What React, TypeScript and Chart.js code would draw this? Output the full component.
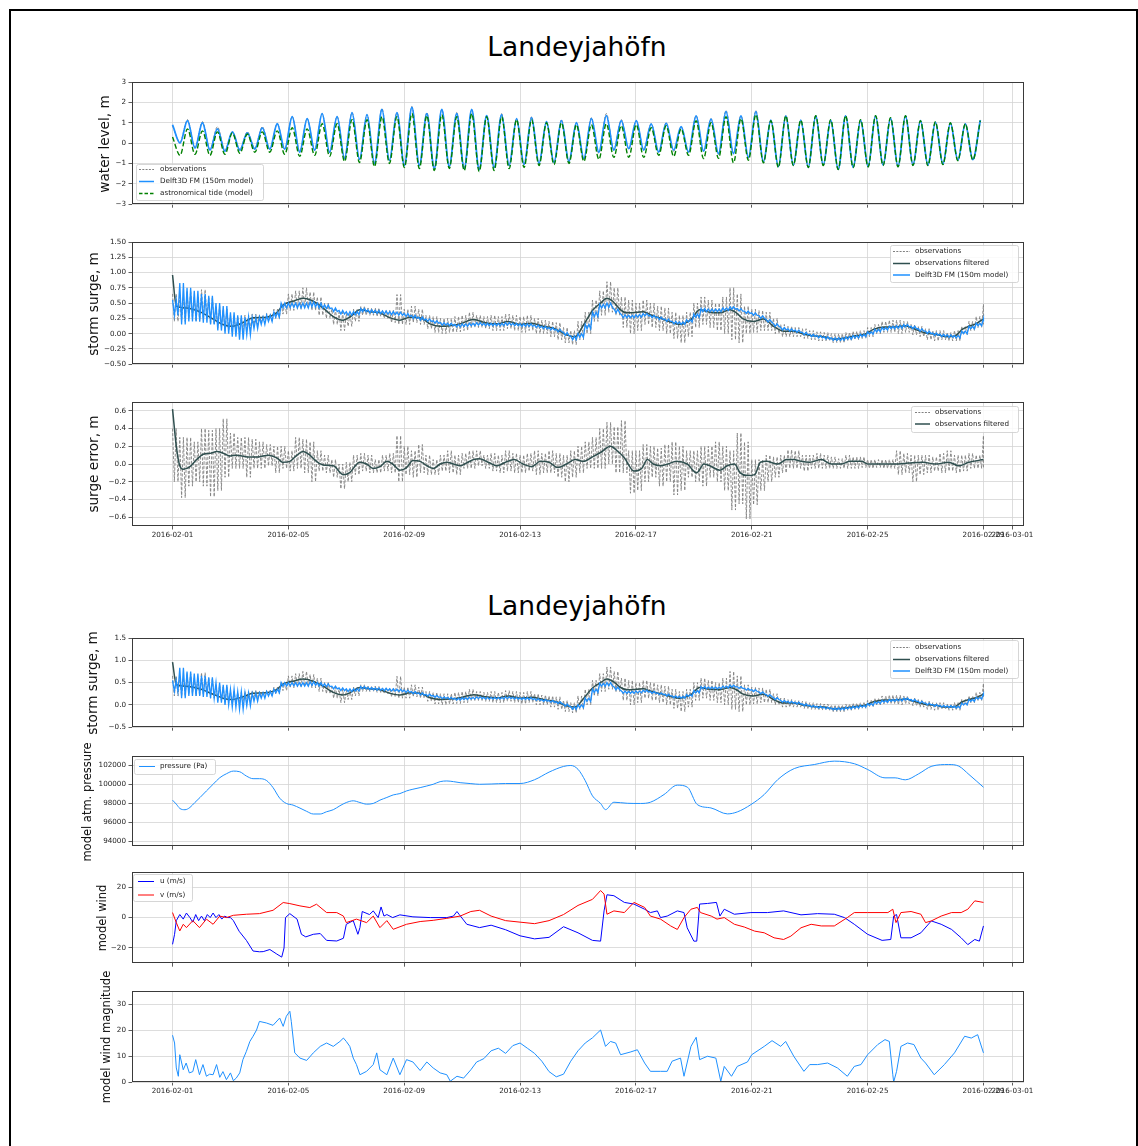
import React, { useEffect, useRef } from "react";
import { Chart, registerables } from "chart.js";
Chart.register(...registerables);

const FONT = '"DejaVu Sans", sans-serif';
Chart.defaults.font.family = FONT;

// ---------- x axis (days since 2016-02-01) ----------
const X_MIN = -1.4;
const X_MAX = 29.4;
const X_TICKS = [0, 4, 8, 12, 16, 20, 24, 28, 29];
const X_LABELS = ["2016-02-01", "2016-02-05", "2016-02-09", "2016-02-13", "2016-02-17", "2016-02-21", "2016-02-25", "2016-02-29", "2016-03-01"];

// ---------- panel 1: water level (tidal extremes, high/low alternating) ----------
const TIDE_PERIOD_DAYS = 0.5165;
const MODEL_PEAKS = [0.9, 1.1, 1.0, 0.7, 0.55, 0.5, 0.75, 0.95, 1.3, 1.2, 1.45, 1.3, 1.5, 1.4, 1.65, 1.5, 1.75, 1.45, 1.65, 1.45, 1.65, 1.35, 1.4, 1.2, 1.25, 1.05, 1.1, 1.0, 1.2, 1.35, 1.1, 1.1, 0.94, 0.98, 0.81, 1.34, 1.18, 1.55, 1.34, 1.55, 1.13, 1.34, 1.13, 1.34, 1.13, 1.34, 1.13, 1.34, 1.23, 1.34, 1.1, 1.02, 0.98, 0.94, 1.13];
const MODEL_TROUGHS = [0.0, -0.25, -0.35, -0.4, -0.35, -0.3, -0.3, -0.3, -0.45, -0.35, -0.45, -0.75, -0.8, -1.0, -0.85, -1.1, -1.1, -1.25, -1.15, -1.25, -1.3, -1.2, -1.1, -1.05, -1.0, -0.95, -0.9, -0.75, -0.45, -0.35, -0.27, -0.35, -0.44, -0.35, -0.44, -0.39, -0.52, -0.52, -0.7, -0.92, -1.16, -1.08, -1.19, -1.08, -1.29, -1.19, -1.16, -1.08, -1.16, -1.08, -1.08, -1.03, -0.84, -0.81];
const ASTRO_PEAKS = [0.3, 0.7, 0.6, 0.55, 0.5, 0.45, 0.55, 0.6, 0.75, 0.7, 0.95, 0.95, 1.15, 1.15, 1.3, 1.3, 1.45, 1.35, 1.4, 1.3, 1.45, 1.3, 1.3, 1.15, 1.15, 1.0, 1.0, 0.9, 0.9, 0.95, 0.85, 0.9, 0.75, 0.85, 0.7, 1.1, 1.0, 1.3, 1.2, 1.4, 1.1, 1.34, 1.13, 1.34, 1.15, 1.35, 1.15, 1.35, 1.25, 1.35, 1.1, 1.05, 1.0, 0.95, 1.1];
const ASTRO_TROUGHS = [-0.6, -0.55, -0.6, -0.55, -0.5, -0.45, -0.45, -0.55, -0.65, -0.6, -0.65, -0.9, -0.95, -1.15, -1.0, -1.2, -1.25, -1.35, -1.25, -1.35, -1.4, -1.35, -1.25, -1.2, -1.1, -1.05, -1.0, -0.9, -0.8, -0.7, -0.7, -0.7, -0.6, -0.65, -0.6, -0.76, -0.75, -0.97, -0.84, -0.97, -1.19, -1.1, -1.2, -1.1, -1.3, -1.2, -1.17, -1.1, -1.17, -1.1, -1.1, -1.05, -0.86, -0.83];
const OBS_PEAKS = [0.85, 1.15, 1.05, 0.8, 0.55, 0.55, 0.8, 0.95, 1.3, 1.2, 1.45, 1.3, 1.5, 1.4, 1.7, 1.5, 1.8, 1.5, 1.65, 1.5, 1.65, 1.35, 1.45, 1.2, 1.3, 1.05, 1.15, 1.0, 1.25, 1.45, 1.15, 1.1, 0.95, 1.0, 0.8, 1.35, 1.2, 1.6, 1.35, 1.6, 1.1, 1.35, 1.1, 1.35, 1.1, 1.35, 1.1, 1.35, 1.2, 1.35, 1.1, 1.0, 1.0, 0.95, 1.15];
const OBS_TROUGHS = [0.05, -0.2, -0.3, -0.35, -0.3, -0.25, -0.3, -0.3, -0.4, -0.35, -0.45, -0.7, -0.8, -0.95, -0.85, -1.05, -1.1, -1.2, -1.15, -1.2, -1.25, -1.2, -1.1, -1.05, -1.05, -1.0, -0.95, -0.8, -0.5, -0.3, -0.3, -0.3, -0.45, -0.4, -0.45, -0.4, -0.55, -0.5, -0.75, -0.95, -1.15, -1.1, -1.2, -1.1, -1.3, -1.2, -1.15, -1.1, -1.15, -1.05, -1.1, -1.05, -0.85, -0.8];

// ---------- storm surge (6-hourly upper / lower envelope of the oscillating traces) ----------
const GRID_STEP_DAYS = 0.25;
const SURGE_MODEL_HI = [0.55, 0.83, 0.75, 0.7, 0.65, 0.62, 0.5, 0.45, 0.35, 0.3, 0.27, 0.26, 0.27, 0.3, 0.35, 0.5, 0.5, 0.5, 0.5, 0.52, 0.5, 0.47, 0.42, 0.38, 0.36, 0.36, 0.41, 0.39, 0.38, 0.37, 0.36, 0.35, 0.33, 0.3, 0.27, 0.24, 0.21, 0.18, 0.17, 0.15, 0.16, 0.17, 0.18, 0.17, 0.17, 0.17, 0.18, 0.17, 0.16, 0.16, 0.14, 0.12, 0.1, 0.07, 0.02, -0.04, 0.0, 0.15, 0.35, 0.48, 0.5, 0.4, 0.31, 0.3, 0.31, 0.33, 0.3, 0.27, 0.24, 0.2, 0.19, 0.23, 0.32, 0.41, 0.4, 0.4, 0.42, 0.44, 0.41, 0.37, 0.34, 0.29, 0.23, 0.16, 0.1, 0.08, 0.06, 0.02, -0.01, -0.03, -0.05, -0.07, -0.07, -0.05, -0.03, -0.01, 0.03, 0.07, 0.1, 0.12, 0.13, 0.15, 0.12, 0.08, 0.04, 0.01, -0.01, -0.02, -0.03, 0.04, 0.12, 0.17, 0.24];
const SURGE_MODEL_LO = [0.3, 0.15, 0.2, 0.2, 0.18, 0.15, 0.05, 0.0, -0.05, -0.1, -0.02, 0.08, 0.15, 0.2, 0.27, 0.42, 0.43, 0.42, 0.42, 0.44, 0.42, 0.41, 0.36, 0.32, 0.3, 0.31, 0.36, 0.34, 0.33, 0.32, 0.31, 0.3, 0.28, 0.25, 0.22, 0.2, 0.17, 0.14, 0.13, 0.11, 0.12, 0.13, 0.14, 0.13, 0.13, 0.13, 0.14, 0.13, 0.12, 0.12, 0.1, 0.08, 0.06, 0.03, -0.03, -0.1, -0.06, 0.08, 0.28, 0.42, 0.43, 0.34, 0.26, 0.26, 0.27, 0.29, 0.26, 0.23, 0.2, 0.16, 0.15, 0.19, 0.27, 0.36, 0.36, 0.36, 0.38, 0.4, 0.37, 0.33, 0.3, 0.25, 0.19, 0.12, 0.06, 0.04, 0.02, -0.02, -0.05, -0.07, -0.09, -0.11, -0.11, -0.09, -0.07, -0.05, -0.01, 0.03, 0.06, 0.08, 0.09, 0.11, 0.08, 0.04, 0.0, -0.03, -0.05, -0.06, -0.07, 0.0, 0.08, 0.13, 0.2];
const SURGE_OBS_HI = [0.65, 0.6, 0.7, 0.6, 0.72, 0.6, 0.45, 0.4, 0.3, 0.28, 0.3, 0.32, 0.3, 0.33, 0.4, 0.5, 0.65, 0.7, 0.75, 0.68, 0.6, 0.5, 0.4, 0.35, 0.33, 0.4, 0.45, 0.42, 0.42, 0.38, 0.38, 0.64, 0.4, 0.45, 0.4, 0.3, 0.28, 0.25, 0.25, 0.28, 0.3, 0.35, 0.3, 0.28, 0.3, 0.28, 0.32, 0.3, 0.28, 0.3, 0.25, 0.22, 0.2, 0.18, 0.1, 0.05, 0.2, 0.35, 0.55, 0.7, 0.85, 0.75, 0.6, 0.55, 0.5, 0.55, 0.5, 0.45, 0.42, 0.35, 0.3, 0.35, 0.5, 0.6, 0.55, 0.5, 0.6, 0.75, 0.65, 0.45, 0.4, 0.38, 0.35, 0.25, 0.15, 0.12, 0.1, 0.08, 0.05, 0.03, 0.02, 0.0, 0.0, 0.02, 0.04, 0.05, 0.1, 0.15, 0.2, 0.22, 0.22, 0.2, 0.15, 0.12, 0.08, 0.05, 0.05, 0.02, 0.05, 0.12, 0.2, 0.28, 0.48];
const SURGE_OBS_LO = [0.2, 0.2, 0.25, 0.2, 0.25, 0.15, 0.1, 0.05, 0.02, 0.05, 0.08, 0.15, 0.18, 0.2, 0.25, 0.32, 0.38, 0.4, 0.42, 0.38, 0.3, 0.25, 0.15, 0.05, 0.12, 0.2, 0.3, 0.3, 0.28, 0.25, 0.18, 0.15, 0.15, 0.18, 0.15, 0.08, 0.02, 0.0, 0.02, 0.03, 0.05, 0.1, 0.1, 0.08, 0.05, 0.05, 0.08, 0.05, 0.02, 0.05, 0.0, 0.0, -0.05, -0.1, -0.15, -0.18, -0.1, 0.0, 0.2, 0.3, 0.35, 0.3, 0.1, 0.0, 0.05, 0.15, 0.1, 0.05, 0.0, -0.08, -0.15, -0.05, 0.1, 0.15, 0.1, 0.05, 0.0, -0.1, -0.15, 0.0, 0.02, 0.05, 0.05, 0.0, -0.05, -0.05, -0.05, -0.08, -0.1, -0.12, -0.12, -0.15, -0.15, -0.12, -0.1, -0.08, -0.05, 0.0, 0.02, 0.02, 0.0, 0.02, -0.02, -0.05, -0.1, -0.12, -0.1, -0.12, -0.12, -0.02, 0.05, 0.1, 0.15];
const SURGE_FILTERED: [number, number][] = [[0, 0.96], [0.13, 0.45], [0.47, 0.42], [0.93, 0.36], [1.4, 0.24], [1.74, 0.15], [2.03, 0.12], [2.43, 0.18], [2.78, 0.26], [3.24, 0.27], [3.59, 0.34], [3.82, 0.47], [4.16, 0.53], [4.51, 0.58], [4.86, 0.53], [5.2, 0.42], [5.55, 0.28], [5.89, 0.22], [6.12, 0.27], [6.47, 0.39], [6.81, 0.36], [7.16, 0.34], [7.51, 0.26], [7.85, 0.22], [8.2, 0.27], [8.55, 0.26], [8.89, 0.16], [9.24, 0.12], [9.59, 0.13], [9.93, 0.16], [10.4, 0.23], [10.8, 0.18], [11.2, 0.16], [11.6, 0.2], [12.0, 0.15], [12.4, 0.17], [12.8, 0.12], [13.2, 0.08], [13.6, -0.02], [13.9, -0.05], [14.2, 0.15], [14.5, 0.38], [14.78, 0.5], [15.0, 0.58], [15.2, 0.53], [15.47, 0.39], [15.68, 0.34], [16.03, 0.35], [16.26, 0.36], [16.5, 0.31], [16.8, 0.26], [17.2, 0.19], [17.5, 0.15], [17.9, 0.23], [18.2, 0.39], [18.55, 0.35], [18.9, 0.34], [19.24, 0.39], [19.47, 0.34], [19.7, 0.24], [20.05, 0.2], [20.4, 0.24], [20.75, 0.12], [21.1, 0.04], [21.45, 0.04], [21.8, -0.01], [22.15, -0.04], [22.5, -0.05], [22.85, -0.09], [23.2, -0.07], [23.54, -0.04], [23.9, -0.01], [24.2, 0.07], [24.6, 0.11], [24.95, 0.11], [25.3, 0.13], [25.6, 0.08], [26.0, 0.01], [26.35, -0.01], [26.7, -0.05], [27.0, -0.04], [27.27, 0.07], [27.5, 0.12], [27.73, 0.16], [28.0, 0.24]];

// ---------- surge error ----------
const ERR_OBS_HI = [0.4, 0.3, 0.3, 0.25, 0.4, 0.38, 0.4, 0.51, 0.35, 0.3, 0.3, 0.28, 0.25, 0.22, 0.2, 0.2, 0.15, 0.3, 0.28, 0.25, 0.15, 0.1, 0.05, 0.0, 0.02, 0.1, 0.12, 0.1, 0.05, 0.1, 0.12, 0.32, 0.2, 0.15, 0.22, 0.1, 0.05, 0.1, 0.15, 0.1, 0.12, 0.15, 0.15, 0.1, 0.12, 0.1, 0.15, 0.12, 0.1, 0.12, 0.15, 0.12, 0.15, 0.12, 0.1, 0.15, 0.2, 0.25, 0.3, 0.4, 0.47, 0.42, 0.49, 0.15, 0.15, 0.22, 0.2, 0.18, 0.22, 0.25, 0.2, 0.15, 0.15, 0.2, 0.2, 0.25, 0.2, 0.15, 0.35, 0.25, 0.05, 0.05, 0.1, 0.08, 0.1, 0.16, 0.15, 0.1, 0.1, 0.12, 0.1, 0.08, 0.06, 0.1, 0.08, 0.08, 0.05, 0.05, 0.05, 0.05, 0.15, 0.12, 0.1, 0.1, 0.1, 0.08, 0.12, 0.15, 0.1, 0.1, 0.12, 0.1, 0.32];
const ERR_OBS_LO = [-0.2, -0.38, -0.25, -0.2, -0.25, -0.37, -0.3, -0.15, -0.05, -0.05, -0.15, -0.05, -0.05, -0.02, -0.1, -0.05, -0.08, -0.05, -0.1, -0.2, -0.08, -0.1, -0.15, -0.28, -0.2, -0.12, -0.08, -0.1, -0.1, -0.08, -0.1, -0.2, -0.12, -0.15, -0.1, -0.12, -0.12, -0.08, -0.1, -0.12, -0.05, -0.05, -0.02, -0.05, -0.08, -0.1, -0.08, -0.1, -0.1, -0.08, -0.12, -0.1, -0.1, -0.15, -0.2, -0.15, -0.1, -0.05, -0.05, -0.05, 0.0, -0.1, -0.1, -0.33, -0.3, -0.2, -0.15, -0.25, -0.2, -0.35, -0.3, -0.15, -0.2, -0.25, -0.15, -0.2, -0.3, -0.52, -0.45, -0.62, -0.46, -0.3, -0.2, -0.15, -0.1, -0.05, -0.05, -0.08, -0.05, -0.05, -0.05, -0.05, -0.05, -0.05, -0.05, -0.04, -0.05, -0.04, -0.05, -0.05, -0.12, -0.1, -0.2, -0.12, -0.1, -0.08, -0.1, -0.08, -0.1, -0.08, -0.05, -0.05, -0.05];
const ERR_FILTERED: [number, number][] = [[0, 0.62], [0.13, 0.2], [0.25, -0.02], [0.37, -0.06], [0.6, -0.03], [0.83, 0.05], [1.06, 0.11], [1.3, 0.12], [1.53, 0.14], [1.76, 0.12], [2.0, 0.09], [2.2, 0.1], [2.6, 0.08], [2.95, 0.08], [3.3, 0.1], [3.6, 0.07], [3.8, 0.02], [4.05, 0.03], [4.3, 0.1], [4.5, 0.14], [4.74, 0.1], [4.97, 0.03], [5.2, -0.01], [5.55, -0.02], [5.9, -0.12], [6.1, -0.1], [6.47, 0.02], [6.7, 0.0], [6.93, -0.05], [7.16, -0.03], [7.4, 0.03], [7.6, 0.0], [7.85, -0.07], [8.08, -0.04], [8.3, 0.04], [8.55, 0.03], [8.78, -0.02], [9.0, -0.05], [9.24, 0.0], [9.47, 0.02], [9.7, 0.0], [9.93, -0.02], [10.2, 0.02], [10.4, 0.05], [10.6, 0.06], [10.9, 0.02], [11.2, -0.02], [11.5, 0.02], [11.8, 0.05], [12.1, 0.0], [12.4, -0.03], [12.7, 0.03], [13.0, 0.02], [13.3, -0.04], [13.6, 0.0], [13.9, 0.05], [14.2, 0.03], [14.5, 0.08], [14.78, 0.13], [15.12, 0.2], [15.35, 0.15], [15.6, 0.07], [15.93, -0.08], [16.2, -0.05], [16.4, 0.05], [16.6, 0.0], [16.85, -0.02], [17.1, 0.0], [17.4, 0.03], [17.77, 0.0], [18.1, -0.1], [18.35, 0.0], [18.55, -0.02], [18.9, -0.07], [19.15, -0.02], [19.4, 0.0], [19.6, -0.1], [19.85, -0.13], [20.1, -0.12], [20.3, 0.02], [20.5, 0.03], [20.9, 0.0], [21.2, 0.05], [21.45, 0.05], [21.7, 0.03], [22.0, 0.02], [22.4, 0.05], [22.75, 0.0], [23.1, 0.0], [23.4, 0.03], [23.8, 0.03], [24.0, 0.0], [24.5, 0.0], [24.95, 0.0], [25.4, 0.01], [25.9, 0.02], [26.35, 0.0], [26.8, 0.02], [27.15, -0.02], [27.5, 0.02], [28.0, 0.05]];

// ---------- meteo ----------
const PRESSURE: [number, number][] = [[0, 98350], [0.13, 97930], [0.25, 97480], [0.43, 97340], [0.6, 97580], [0.77, 98100], [0.95, 98630], [1.17, 99320], [1.4, 100020], [1.63, 100710], [1.86, 101130], [2.1, 101410], [2.32, 101340], [2.55, 100890], [2.78, 100610], [3.0, 100610], [3.24, 100430], [3.47, 99670], [3.7, 98560], [3.93, 98000], [4.16, 97830], [4.4, 97510], [4.63, 97170], [4.86, 96890], [5.1, 96890], [5.32, 97130], [5.55, 97340], [5.78, 97760], [6.0, 98100], [6.24, 98280], [6.47, 98100], [6.7, 97930], [6.93, 98000], [7.16, 98350], [7.4, 98630], [7.62, 98900], [7.85, 99040], [8.08, 99320], [8.3, 99500], [8.55, 99670], [8.78, 99840], [9.0, 100020], [9.24, 100300], [9.47, 100370], [9.7, 100300], [9.93, 100190], [10.3, 100090], [10.6, 100020], [11.0, 100050], [11.5, 100100], [12.0, 100100], [12.5, 100500], [13.0, 101300], [13.5, 101900], [13.75, 102000], [14.0, 101600], [14.25, 100400], [14.5, 98800], [14.78, 98000], [14.95, 97350], [15.24, 98130], [15.7, 98020], [16.16, 98000], [16.5, 98130], [16.97, 98940], [17.43, 99930], [17.78, 99710], [18.12, 97880], [18.59, 97530], [19.16, 96900], [19.5, 97110], [19.97, 97880], [20.43, 98940], [20.9, 100520], [21.47, 101680], [22.16, 102100], [22.85, 102460], [23.55, 102180], [24.0, 101580], [24.6, 100700], [24.95, 100700], [25.3, 100490], [25.76, 101120], [26.22, 101930], [26.8, 102100], [27.15, 101930], [27.5, 101050], [28.0, 99710]];
const WIND_U: [number, number][] = [[0, -17.6], [0.07, -11], [0.13, -2], [0.25, 2], [0.37, -1], [0.48, 3], [0.6, 0], [0.7, -3], [0.8, 2], [0.9, -2], [1.0, 1], [1.1, -2], [1.2, 2], [1.3, 0], [1.4, 3], [1.5, 0], [1.6, 2], [1.7, -1], [1.8, 1], [1.9, 0], [2.0, 0], [2.1, -2], [2.3, -9], [2.55, -15], [2.78, -22], [3.0, -22.5], [3.13, -22.4], [3.36, -21], [3.6, -24], [3.77, -26], [3.85, -20], [3.9, 0], [4.05, 2.6], [4.3, -1], [4.45, -11], [4.6, -12.7], [4.86, -11], [5.1, -10.5], [5.32, -15], [5.67, -15.4], [5.9, -13.6], [6.0, -4.4], [6.24, -2], [6.4, -11], [6.47, -6.6], [6.55, 4], [6.8, 2], [6.93, 4.4], [7.1, 0], [7.2, 7], [7.3, 1], [7.4, 2], [7.6, 0], [7.85, 1.8], [8.3, 0.5], [8.9, 0], [9.47, 0], [9.7, 1], [9.82, 4], [9.9, 2], [10.16, -4.4], [10.6, -6.6], [11.0, -5], [11.5, -8], [12.0, -12], [12.5, -14], [13.0, -13], [13.5, -6], [14.0, -10], [14.5, -15], [14.78, -15.5], [14.9, 4.4], [15.0, 15], [15.24, 14.4], [15.6, 10], [15.93, 8.9], [16.3, 5.5], [16.5, 3.3], [16.74, 4.4], [16.85, 0], [17.08, 1], [17.43, 4.4], [17.66, 3.3], [17.77, -6.7], [18.0, -15.5], [18.1, -15.5], [18.2, 8.9], [18.47, 9.3], [18.78, 10], [18.9, 1], [19.05, 5.5], [19.4, 2.2], [19.97, 3.3], [20.54, 3.3], [21.1, 4.4], [21.7, 1.8], [22.27, 2.6], [22.85, 2.2], [23.2, 0], [23.54, -4.4], [24.0, -11], [24.5, -15], [24.8, -14.4], [24.9, 1], [25.0, 2], [25.15, -13.3], [25.5, -13.3], [25.84, -10], [26.2, -2.2], [26.54, -4.4], [26.9, -7.8], [27.23, -13.3], [27.46, -17.8], [27.7, -14.4], [27.86, -15.5], [28.0, -5.5]];
const WIND_V: [number, number][] = [[0, 3.3], [0.13, -3.3], [0.25, -8.8], [0.37, -4.4], [0.48, -6.6], [0.7, -2], [0.93, -6.6], [1.17, -1], [1.4, -4.4], [1.63, 1], [1.86, 0], [2.1, 1.5], [2.55, 2.2], [3.0, 2.6], [3.47, 4.8], [3.82, 9.9], [4.05, 9.2], [4.4, 7.7], [4.74, 6.6], [4.97, 8.8], [5.32, 3.3], [5.67, 3.3], [5.9, 1], [6.0, -3.3], [6.35, -1], [6.7, -3.3], [6.93, 1], [7.16, -6.6], [7.4, -2], [7.62, -7.7], [8.08, -4.4], [8.55, -2.6], [9.0, -1.8], [9.47, -0.5], [9.93, 1], [10.3, 4], [10.6, 4.8], [11.0, 1], [11.5, -2], [12.0, -3], [12.5, -4], [13.0, -2], [13.5, 2], [14.0, 8], [14.5, 12], [14.78, 17.8], [14.9, 15.5], [15.0, 2.2], [15.24, 4.4], [15.6, 3.3], [15.93, 10], [16.3, 6.7], [16.5, 1], [16.85, -1], [17.2, -5.5], [17.43, -7.8], [17.66, 0], [17.9, 5.5], [18.12, 6.7], [18.23, 3.3], [18.6, 1], [18.8, -1], [19.05, 0], [19.4, -4.4], [19.74, -6.2], [20.1, -8.9], [20.43, -10], [20.77, -13.3], [21.1, -14.4], [21.35, -12.2], [21.7, -6.7], [22.05, -4.4], [22.4, -5.5], [22.85, -5.5], [23.3, 0], [23.54, 3.3], [24.0, 3.3], [24.7, 3.3], [24.87, 5.5], [24.98, -3.3], [25.15, 3.3], [25.5, 4], [25.84, 2.2], [26.0, -3.3], [26.2, -2.2], [26.54, 1], [26.9, 3.3], [27.23, 3.3], [27.46, 5.5], [27.7, 11], [28.0, 10]];
const WIND_MAG: [number, number][] = [[0, 18], [0.07, 15], [0.13, 5.4], [0.2, 2.2], [0.25, 10.5], [0.37, 4.7], [0.47, 7.3], [0.58, 3.5], [0.7, 4], [0.8, 8.6], [0.93, 2.8], [1.05, 6.7], [1.17, 2.2], [1.28, 3], [1.4, 2.8], [1.52, 6.7], [1.63, 1.8], [1.74, 4], [1.86, 0.9], [2.0, 3.5], [2.1, 0.5], [2.2, 1.5], [2.32, 3.5], [2.43, 8.6], [2.55, 11.8], [2.67, 15.6], [2.78, 17.6], [2.9, 20], [3.0, 23.3], [3.24, 22.7], [3.47, 21.8], [3.7, 24.6], [3.82, 21.4], [3.93, 25.3], [4.05, 27.2], [4.1, 23.3], [4.22, 11.2], [4.4, 9.2], [4.63, 8.3], [4.86, 11.2], [5.1, 13.7], [5.32, 15], [5.55, 13.7], [5.78, 15.6], [5.9, 16.9], [6.0, 15.6], [6.12, 13.7], [6.24, 9.2], [6.35, 6.7], [6.47, 2.8], [6.7, 4.1], [6.93, 6.7], [7.05, 11.2], [7.16, 4.7], [7.4, 2.8], [7.62, 9.2], [7.85, 2.8], [8.08, 8.6], [8.3, 7.7], [8.55, 4.4], [8.78, 7.7], [9.0, 5.4], [9.24, 3.5], [9.47, 2.8], [9.59, 0.3], [9.82, 2.2], [10.05, 1.5], [10.3, 4.7], [10.5, 7.7], [10.6, 8.2], [10.75, 9], [11.0, 12], [11.25, 13], [11.5, 11], [11.75, 14], [12.0, 15], [12.25, 13], [12.5, 11], [12.75, 8], [13.0, 4], [13.25, 2], [13.5, 3], [13.75, 8], [14.0, 12], [14.25, 15], [14.5, 17], [14.78, 20], [14.95, 13.7], [15.12, 15.6], [15.3, 15], [15.47, 10.5], [15.8, 11.5], [16.05, 12.4], [16.3, 7.3], [16.5, 4.1], [16.85, 4.1], [17.08, 4.1], [17.25, 8], [17.54, 9.2], [17.66, 2.2], [17.9, 13.7], [18.08, 17.2], [18.2, 8.6], [18.47, 9.9], [18.76, 9.2], [18.93, 0.3], [19.05, 6], [19.3, 2.2], [19.5, 6], [19.85, 7.7], [20.0, 10.5], [20.43, 13.7], [20.7, 15.9], [21.0, 13.7], [21.17, 15.6], [21.45, 9.9], [21.8, 4.1], [22.0, 6.7], [22.27, 6.7], [22.62, 7.3], [22.96, 5.4], [23.3, 2.2], [23.54, 6], [23.77, 6.7], [24.0, 10.5], [24.35, 14.4], [24.6, 16.3], [24.75, 15.6], [24.87, 2.8], [24.9, 0], [25.0, 4.1], [25.15, 13.7], [25.38, 15], [25.6, 14.4], [25.84, 9.2], [26.0, 7.3], [26.3, 2.8], [26.65, 6.7], [27.0, 11.2], [27.35, 17.6], [27.58, 16.9], [27.8, 18.2], [28.0, 11.2]];

// ---------- y tick values ----------
const WL_TICKS = [-3, -2, -1, 0, 1, 2, 3];
const SURGE_TICKS = [-0.5, -0.25, 0, 0.25, 0.5, 0.75, 1.0, 1.25, 1.5];
const ERR_TICKS = [-0.6, -0.4, -0.2, 0, 0.2, 0.4, 0.6];
const SURGE2_TICKS = [-0.5, 0, 0.5, 1.0, 1.5];
const P_TICKS = [94000, 96000, 98000, 100000, 102000];
const WIND_TICKS = [-20, 0, 20];
const MAG_TICKS = [0, 10, 20, 30];

// ---------- helpers ----------
type Pt = { x: number; y: number };
const fromPairs = (l: [number, number][]): Pt[] => l.map(([x, y]) => ({ x, y }));
const tide = (peaks: number[], troughs: number[]): Pt[] => {
  const out: Pt[] = [];
  peaks.forEach((p, k) => {
    out.push({ x: k * TIDE_PERIOD_DAYS, y: p });
    if (k < troughs.length) out.push({ x: (k + 0.5) * TIDE_PERIOD_DAYS, y: troughs[k] });
  });
  return out;
};
// dense oscillating trace drawn between the read upper and lower envelopes
const band = (hi: number[], lo: number[]): Pt[] => {
  const out: Pt[] = [];
  const q = GRID_STEP_DAYS / 4;
  hi.forEach((h, i) => {
    const t = i * GRID_STEP_DAYS;
    const last = i === hi.length - 1;
    out.push({ x: t, y: h });
    if (last) { out.push({ x: t, y: lo[i] }); return; }
    out.push({ x: t + q, y: lo[i] });
    out.push({ x: t + 2 * q, y: h });
    out.push({ x: t + 3 * q, y: lo[i] });
  });
  return out;
};

const C_BLUE = "#1e90ff";
const C_GRAY = "#808080";
const C_GREEN = "#008000";
const C_DARK = "#2f4f4f";
const OBS_DASH = [3, 1.6];
const ASTRO_DASH = [5, 2.4];

type Series = { label: string; data: Pt[]; color: string; width: number; dash?: number[]; smooth?: boolean };
type LegendItem = { label: string; color: string; width: number; dash?: number[] };
type LegendCfg = { x: number; y: number; w: number; h: number; rows: number[]; lx0: number; lx1: number; tx: number; items: LegendItem[] };
type PanelCfg = {
  top: number; bottom: number; yMin: number; yMax: number; yTicks: number[]; decimals: number;
  title: string; titleX: number; titleSize: number; showX: boolean; series: Series[]; legend?: LegendCfg;
};

const surgeObs = band(SURGE_OBS_HI, SURGE_OBS_LO);
const surgeModel = band(SURGE_MODEL_HI, SURGE_MODEL_LO);
const surgeFilt = fromPairs(SURGE_FILTERED);

const surgeSeries: Series[] = [
  { label: "observations", data: surgeObs, color: C_GRAY, width: 0.9, dash: OBS_DASH },
  { label: "observations filtered", data: surgeFilt, color: C_DARK, width: 1.5, smooth: true },
  { label: "Delft3D FM (150m model)", data: surgeModel, color: C_BLUE, width: 1.3 },
];
const surgeLegendItems: LegendItem[] = [
  { label: "observations", color: C_GRAY, width: 1, dash: [2, 1.3] },
  { label: "observations filtered", color: C_DARK, width: 1.5 },
  { label: "Delft3D FM (150m model)", color: C_BLUE, width: 1.5 },
];

const PANELS: PanelCfg[] = [
  {
    top: 82, bottom: 205, yMin: -3, yMax: 3, yTicks: WL_TICKS, decimals: 0, title: "water level, m", titleX: 104, titleSize: 13.6, showX: false,
    series: [
      { label: "observations", data: tide(OBS_PEAKS, OBS_TROUGHS), color: C_GRAY, width: 1, dash: OBS_DASH, smooth: true },
      { label: "Delft3D FM (150m model)", data: tide(MODEL_PEAKS, MODEL_TROUGHS), color: C_BLUE, width: 1.8, smooth: true },
      { label: "astronomical tide (model)", data: tide(ASTRO_PEAKS, ASTRO_TROUGHS), color: C_GREEN, width: 1.4, dash: ASTRO_DASH, smooth: true },
    ],
    legend: {
      x: 136, y: 164, w: 127, h: 36, rows: [169.5, 181.5, 193.5], lx0: 139, lx1: 154, tx: 160,
      items: [
        { label: "observations", color: C_GRAY, width: 1, dash: [2, 1.3] },
        { label: "Delft3D FM (150m model)", color: C_BLUE, width: 1.5 },
        { label: "astronomical tide (model)", color: C_GREEN, width: 1.4, dash: [3.5, 2] },
      ],
    },
  },
  {
    top: 242, bottom: 365, yMin: -0.5, yMax: 1.5, yTicks: SURGE_TICKS, decimals: 2, title: "storm surge, m", titleX: 93, titleSize: 13.6, showX: false,
    series: surgeSeries,
    legend: { x: 890, y: 245, w: 128, h: 37, rows: [251.5, 263.5, 275], lx0: 893, lx1: 910, tx: 915, items: surgeLegendItems },
  },
  {
    top: 402, bottom: 526, yMin: -0.7, yMax: 0.7, yTicks: ERR_TICKS, decimals: 1, title: "surge error, m", titleX: 93, titleSize: 13.6, showX: true,
    series: [
      { label: "observations", data: band(ERR_OBS_HI, ERR_OBS_LO), color: C_GRAY, width: 0.9, dash: OBS_DASH },
      { label: "observations filtered", data: fromPairs(ERR_FILTERED), color: C_DARK, width: 1.5, smooth: true },
    ],
    legend: {
      x: 911, y: 406, w: 107, h: 26, rows: [412.5, 424], lx0: 915, lx1: 930, tx: 935,
      items: [
        { label: "observations", color: C_GRAY, width: 1, dash: [2, 1.3] },
        { label: "observations filtered", color: C_DARK, width: 1.5 },
      ],
    },
  },
  {
    top: 638, bottom: 728, yMin: -0.5, yMax: 1.5, yTicks: SURGE2_TICKS, decimals: 1, title: "storm surge, m", titleX: 92, titleSize: 13.6, showX: false,
    series: surgeSeries,
    legend: { x: 890, y: 640, w: 128, h: 38, rows: [647.5, 659.5, 671], lx0: 893, lx1: 910, tx: 915, items: surgeLegendItems },
  },
  {
    top: 756, bottom: 847, yMin: 93500, yMax: 103000, yTicks: P_TICKS, decimals: 0, title: "model atm. pressure", titleX: 87, titleSize: 11.5, showX: false,
    series: [{ label: "pressure (Pa)", data: fromPairs(PRESSURE), color: C_BLUE, width: 1, smooth: true }],
    legend: { x: 134, y: 759, w: 81, h: 15, rows: [766.5], lx0: 139, lx1: 155, tx: 160, items: [{ label: "pressure (Pa)", color: C_BLUE, width: 1 }] },
  },
  {
    top: 872, bottom: 964, yMin: -30, yMax: 30, yTicks: WIND_TICKS, decimals: 0, title: "model wind", titleX: 102, titleSize: 11.5, showX: false,
    series: [
      { label: "u (m/s)", data: fromPairs(WIND_U), color: "#0000ff", width: 1 },
      { label: "v (m/s)", data: fromPairs(WIND_V), color: "#ff0000", width: 1 },
    ],
    legend: {
      x: 133, y: 874, w: 59, h: 27, rows: [881.5, 895], lx0: 138, lx1: 154, tx: 160,
      items: [
        { label: "u (m/s)", color: "#0000ff", width: 1 },
        { label: "v (m/s)", color: "#ff0000", width: 1 },
      ],
    },
  },
  {
    top: 991, bottom: 1082, yMin: 0, yMax: 35, yTicks: MAG_TICKS, decimals: 0, title: "model wind magnitude", titleX: 106, titleSize: 11.5, showX: true,
    series: [{ label: "wind magnitude", data: fromPairs(WIND_MAG), color: C_BLUE, width: 1 }],
  },
];

const PLOT_LEFT = 132;
const PLOT_RIGHT = 1024;
const PAD_TOP = 8;
const XH_TICKS = 6;
const XH_LABELS = 20;
const TICK_FONT = 7.2;

const fmt = (v: number, d: number) => {
  const s = Math.abs(v) < 1e-9 ? (0).toFixed(d) : v.toFixed(d);
  return s.replace("-", "\u2212");
};

function Panel({ p }: { p: PanelCfg }) {
  const ref = useRef<HTMLCanvasElement>(null);
  const xh = p.showX ? XH_LABELS : XH_TICKS;
  const h = p.bottom - p.top + PAD_TOP + xh;
  const canvasTop = p.top - PAD_TOP;
  useEffect(() => {
    const n = p.series.length;
    const plugin = {
      id: "mplDecor",
      afterDatasetsDraw(chart: any) {
        const ctx = chart.ctx as CanvasRenderingContext2D;
        const a = chart.chartArea;
        ctx.save();
        ctx.strokeStyle = "#3a3a3a";
        ctx.lineWidth = 1;
        ctx.setLineDash([]);
        ctx.strokeRect(Math.round(a.left) + 0.5, Math.round(a.top) + 0.5, Math.round(a.right - a.left) - 1, Math.round(a.bottom - a.top) - 1);
        const lg = p.legend;
        if (lg) {
          const y0 = lg.y - canvasTop;
          ctx.beginPath();
          if ((ctx as any).roundRect) (ctx as any).roundRect(lg.x + 0.5, y0 + 0.5, lg.w, lg.h, 2);
          else ctx.rect(lg.x + 0.5, y0 + 0.5, lg.w, lg.h);
          ctx.fillStyle = "rgba(255,255,255,0.85)";
          ctx.fill();
          ctx.strokeStyle = "#cccccc";
          ctx.lineWidth = 0.8;
          ctx.stroke();
          lg.items.forEach((it, i) => {
            const yy = lg.rows[i] - canvasTop;
            ctx.beginPath();
            ctx.setLineDash(it.dash || []);
            ctx.strokeStyle = it.color;
            ctx.lineWidth = it.width;
            ctx.moveTo(lg.lx0, yy);
            ctx.lineTo(lg.lx1, yy);
            ctx.stroke();
            ctx.setLineDash([]);
            ctx.fillStyle = "#222";
            ctx.font = `${TICK_FONT}px ${FONT}`;
            ctx.textAlign = "left";
            ctx.textBaseline = "middle";
            ctx.fillText(it.label, lg.tx, yy);
          });
        }
        ctx.restore();
      },
    };
    const chart = new Chart(ref.current!, {
      type: "line",
      data: {
        datasets: p.series.map((s, i) => ({
          label: s.label,
          data: s.data as any,
          borderColor: s.color,
          backgroundColor: s.color,
          borderWidth: s.width,
          borderDash: s.dash || [],
          pointRadius: 0,
          fill: false,
          tension: 0,
          cubicInterpolationMode: s.smooth ? "monotone" : "default",
          order: n - i,
        })) as any,
      },
      options: {
        responsive: false,
        animation: false,
        events: [],
        layout: { padding: { top: PAD_TOP, left: 0, right: 1138 - PLOT_RIGHT, bottom: 0 } },
        plugins: { legend: { display: false }, tooltip: { enabled: false }, title: { display: false } },
        scales: {
          x: {
            type: "linear",
            min: X_MIN,
            max: X_MAX,
            afterBuildTicks: (s: any) => { s.ticks = X_TICKS.map((v) => ({ value: v })); },
            afterFit: (s: any) => { s.height = xh; },
            grid: { color: "#d4d4d4", lineWidth: 0.8, tickLength: 3.5, tickColor: "#333", tickWidth: 0.8 },
            border: { display: false },
            ticks: {
              display: p.showX,
              autoSkip: false,
              maxRotation: 0,
              minRotation: 0,
              padding: 1,
              color: "#222",
              font: { size: TICK_FONT, family: FONT },
              callback: (v: any) => { const i = X_TICKS.indexOf(Number(v)); return i >= 0 ? X_LABELS[i] : ""; },
            },
          },
          y: {
            type: "linear",
            min: p.yMin,
            max: p.yMax,
            afterBuildTicks: (s: any) => { s.ticks = p.yTicks.map((v) => ({ value: v })); },
            afterFit: (s: any) => { s.width = PLOT_LEFT; },
            grid: { color: "#d4d4d4", lineWidth: 0.8, tickLength: 3.5, tickColor: "#333", tickWidth: 0.8 },
            border: { display: false },
            ticks: {
              autoSkip: false,
              padding: 2.5,
              color: "#222",
              font: { size: TICK_FONT, family: FONT },
              callback: (v: any) => fmt(Number(v), p.decimals),
            },
          },
        },
      } as any,
      plugins: [plugin as any],
    });
    return () => chart.destroy();
  }, []);
  const cy = (p.top + p.bottom) / 2;
  return (
    <>
      <canvas
        ref={ref}
        width={1138}
        height={h}
        style={{ position: "absolute", left: 0, top: canvasTop, width: 1138, height: h }}
      />
      <div
        style={{
          position: "absolute",
          left: p.titleX - 150,
          top: cy - 10,
          width: 300,
          height: 20,
          lineHeight: "20px",
          textAlign: "center",
          whiteSpace: "nowrap",
          fontFamily: FONT,
          fontSize: p.titleSize,
          color: "#111",
          transform: "rotate(-90deg)",
        }}
      >
        {p.title}
      </div>
    </>
  );
}

const titleStyle = (cy: number): React.CSSProperties => ({
  position: "absolute",
  left: 0,
  width: 1154,
  top: cy - 16,
  height: 32,
  lineHeight: "32px",
  textAlign: "center",
  fontFamily: FONT,
  fontSize: 26.5,
  color: "#000",
});

export default function App() {
  return (
    <div style={{ position: "absolute", left: 0, top: 0, width: 1138, height: 1146, background: "#fff", overflow: "hidden" }}>
      <div style={{ position: "absolute", left: 9, top: 9, width: 1125, height: 1150, border: "2px solid #000" }} />
      <div style={titleStyle(47)}>Landeyjahöfn</div>
      <div style={titleStyle(606)}>Landeyjahöfn</div>
      {PANELS.map((p, i) => (
        <Panel key={i} p={p} />
      ))}
    </div>
  );
}
